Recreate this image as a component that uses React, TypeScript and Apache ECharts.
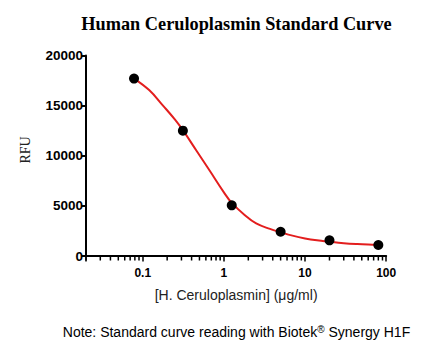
import React, { useEffect, useRef } from "react";
import * as echarts from "echarts";

// Standard points: concentration (µg/ml) and RFU
const concentrations = [0.078125, 0.3125, 1.25, 5, 20, 80];
const rfuValues = [17700, 12500, 5050, 2420, 1560, 1100];

// Fitted curve
const curveX = [0.078, 0.12, 0.18, 0.25, 0.3125, 0.46, 0.67, 1.0, 1.25, 1.8, 2.5, 3.7, 5, 7, 10, 14, 20, 30, 44, 60, 80];
const curveY = [17700, 16550, 14950, 13600, 12550, 10500, 8500, 6350, 5300, 4100, 3250, 2700, 2370, 2030, 1750, 1560, 1420, 1280, 1190, 1140, 1110];

// Axis ticks
const xTickLabels = ["0.1", "1", "10", "100"];
const xMinorTicks = [
  0.02, 0.03, 0.04, 0.05, 0.06, 0.07, 0.08, 0.09,
  0.2, 0.3, 0.4, 0.5, 0.6, 0.7, 0.8, 0.9,
  2, 3, 4, 5, 6, 7, 8, 9,
  20, 30, 40, 50, 60, 70, 80, 90,
];
const yTicks = [0, 5000, 10000, 15000, 20000];

const SANS = "'Liberation Sans', Arial, sans-serif";
const SERIF = "'Liberation Serif', 'Times New Roman', serif";

export default function App() {
  const ref = useRef<HTMLDivElement>(null);

  useEffect(() => {
    if (!ref.current) return;
    const chart = echarts.init(ref.current, undefined, { renderer: "svg" });
    const option: any = {
      animation: false,
      backgroundColor: "#ffffff",
      grid: { left: 86, top: 55.5, width: 300.2, height: 200.5, containLabel: false },
      xAxis: {
        type: "log",
        logBase: 10,
        min: 0.02,
        max: 100,
        name: "[H. Ceruloplasmin] (\u03bcg/ml)",
        nameLocation: "middle",
        nameGap: 32,
        nameTextStyle: { fontFamily: SANS, fontSize: 14, color: "#222" },
        axisLine: { show: true, lineStyle: { color: "#000", width: 2 } },
        axisTick: { show: true, length: 5.5, lineStyle: { color: "#000", width: 1.5 } },
        axisLabel: {
          margin: 11,
          fontFamily: SANS,
          fontSize: 12,
          fontWeight: "bold",
          color: "#000",
          formatter: (v: number) => {
            const s = xTickLabels.find((t) => Math.abs(parseFloat(t) - v) < 1e-9 * Math.max(1, v));
            return s ?? "";
          },
        },
        splitLine: { show: false },
      },
      yAxis: {
        type: "value",
        min: yTicks[0],
        max: yTicks[yTicks.length - 1],
        interval: 5000,
        axisLine: { show: true, lineStyle: { color: "#000", width: 2 } },
        axisTick: { show: true, length: 5, lineStyle: { color: "#000", width: 2 } },
        axisLabel: {
          margin: 3,
          fontFamily: SANS,
          fontSize: 13.5,
          fontWeight: "bold",
          color: "#000",
          formatter: (v: number) => String(v),
        },
        splitLine: { show: false },
      },
      graphic: [
        {
          type: "text",
          x: 236.5,
          y: 24,
          style: {
            text: "Human Ceruloplasmin Standard Curve",
            fontFamily: SERIF,
            fontWeight: "bold",
            fontSize: 18.3,
            fill: "#000",
            align: "center",
            verticalAlign: "middle",
          },
        },
        {
          type: "text",
          x: 25,
          y: 150,
          rotation: Math.PI / 2,
          style: {
            text: "RFU",
            fontFamily: SERIF,
            fontSize: 14,
            fill: "#222",
            align: "center",
            verticalAlign: "middle",
          },
        },
        {
          type: "text",
          x: 236.5,
          y: 332,
          style: {
            text: "Note: Standard curve reading with Biotek{s|\u00ae} Synergy H1F",
            fontFamily: SANS,
            fontSize: 14,
            fill: "#000",
            align: "center",
            verticalAlign: "middle",
            rich: { s: { fontFamily: SANS, fontSize: 10, verticalAlign: "top", padding: [0, 0, 6, 0] } },
          },
        },
      ],
      series: [
        {
          type: "custom",
          coordinateSystem: "cartesian2d",
          silent: true,
          clip: false,
          encode: { x: 0, y: 1 },
          data: xMinorTicks.map((v) => [v, 0]),
          renderItem: (params: any, api: any) => {
            const p = api.coord([api.value(0), api.value(1)]);
            return {
              type: "rect",
              shape: { x: p[0] - 0.75, y: p[1] + 0.5, width: 1.5, height: 4 },
              style: { fill: "#000" },
            };
          },
          z: 5,
        },
        {
          type: "line",
          data: curveX.map((x, i) => [x, curveY[i]]),
          smooth: 0.4,
          showSymbol: false,
          lineStyle: { color: "#e31e1e", width: 2 },
          z: 2,
        },
        {
          type: "scatter",
          data: concentrations.map((x, i) => [x, rfuValues[i]]),
          symbol: "circle",
          symbolSize: 10,
          itemStyle: { color: "#000", opacity: 1 },
          z: 3,
        },
      ],
    };
    chart.setOption(option);
    return () => chart.dispose();
  }, []);

  return (
    <div
      ref={ref}
      style={{ position: "fixed", left: 0, top: 0, width: 433, height: 356, background: "#fff" }}
    />
  );
}
